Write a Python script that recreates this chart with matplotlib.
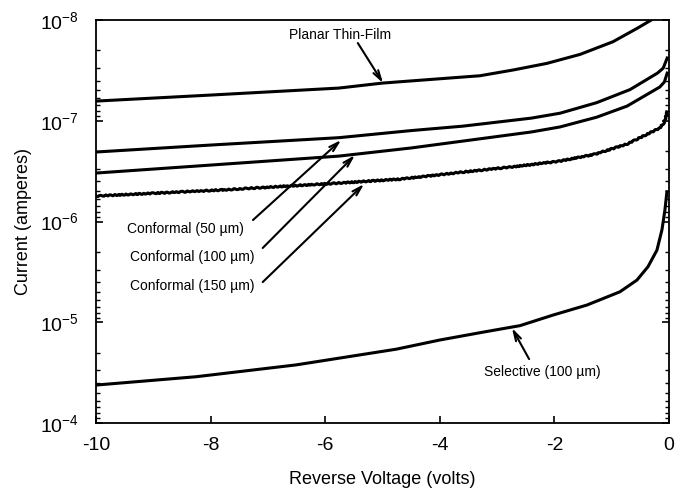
import numpy as np
import matplotlib
matplotlib.use("Agg")
import matplotlib.pyplot as plt
from matplotlib.ticker import LogLocator, NullFormatter

plt.rcParams['font.family'] = ['Liberation Sans', 'DejaVu Sans']
plt.rcParams['mathtext.fontset'] = 'custom'
plt.rcParams['mathtext.rm'] = 'Liberation Sans'

# reverse voltage (V) and current (A)
planar_v = [-10, -8, -5.76, -5.0, -4.2, -3.30, -2.72, -2.13, -1.55, -0.977, -0.558, -0.31]
planar_i = [6.37e-8, 5.55e-8, 4.73e-8, 4.22e-8, 3.90e-8, 3.57e-8, 3.13e-8, 2.69e-8,
            2.19e-8, 1.64e-8, 1.21e-8, 1.0e-8]

conf50_v = [-10, -8, -5.76, -4.5, -3.6, -2.4, -1.9, -1.26, -0.68, -0.2, -0.1, -0.03]
conf50_i = [2.04e-7, 1.74e-7, 1.47e-7, 1.25e-7, 1.13e-7, 9.4e-8, 8.4e-8, 6.6e-8,
            4.9e-8, 3.36e-8, 3.0e-8, 2.38e-8]

conf100_v = [-10, -8, -5.76, -4.5, -3.6, -2.4, -1.9, -1.26, -0.73, -0.16, -0.08, -0.03]
conf100_i = [3.30e-7, 2.75e-7, 2.24e-7, 1.86e-7, 1.59e-7, 1.29e-7, 1.15e-7, 9.2e-8,
             7.14e-8, 4.62e-8, 4.12e-8, 3.36e-8]

conf150_v = [-10, -7.84, -5.76, -4.69, -3.6, -2.7, -1.9, -1.3, -0.73, -0.16, -0.08, -0.03]
conf150_i = [5.58e-7, 4.87e-7, 4.15e-7, 3.79e-7, 3.23e-7, 2.85e-7, 2.51e-7, 2.15e-7,
             1.70e-7, 1.18e-7, 1.03e-7, 8.19e-8]

sel_v = [-10, -8.25, -6.51, -4.76, -4.0, -3.2, -2.60, -2.02, -1.43, -0.855, -0.558,
         -0.366, -0.209, -0.122, -0.070, -0.035]
sel_i = [4.20e-5, 3.47e-5, 2.65e-5, 1.85e-5, 1.50e-5, 1.24e-5, 1.08e-5, 8.47e-6,
         6.74e-6, 4.98e-6, 3.81e-6, 2.81e-6, 1.92e-6, 1.21e-6, 7.69e-7, 5.06e-7]

fig = plt.figure(figsize=(6.75, 4.9), dpi=100)
ax = fig.add_axes([0.1422, 0.1367, 0.8488, 0.8223])

lw = 2.2
ax.plot(planar_v, planar_i, color='black', lw=lw)
ax.plot(conf50_v, conf50_i, color='black', lw=lw)
ax.plot(conf100_v, conf100_i, color='black', lw=lw)
wavy, = ax.plot(conf150_v, conf150_i, color='black', lw=lw)
wavy.set_sketch_params(scale=0.6, length=5, randomness=2)
ax.plot(sel_v, sel_i, color='black', lw=lw)

ax.set_yscale('log')
ax.set_xlim(-10, 0)
ax.set_ylim(1e-4, 1e-8)
ax.set_xticks([-10, -8, -6, -4, -2, 0])
ax.set_xticklabels(['-10', '-8', '-6', '-4', '-2', '0'])
ax.yaxis.set_major_locator(LogLocator(base=10, numticks=10))
ax.yaxis.set_minor_locator(LogLocator(base=10, subs=np.arange(2, 10), numticks=10))
ax.yaxis.set_minor_formatter(NullFormatter())

ax.tick_params(axis='x', direction='in', length=5, width=1.2, labelsize=14, pad=10)
ax.tick_params(axis='y', which='major', direction='in', length=5, width=1.2,
               labelsize=14, pad=12, right=True)
ax.tick_params(axis='y', which='minor', direction='in', length=3, width=1.0, right=True)
for s in ax.spines.values():
    s.set_linewidth(1.3)

ax.set_xlabel('Reverse Voltage (volts)', fontsize=13, labelpad=12)
ax.set_ylabel('Current (amperes)', fontsize=13, labelpad=6)

arrow = dict(arrowstyle='->, head_length=0.7, head_width=0.2', lw=1.5, color='black',
             shrinkA=0, shrinkB=0)
ax.annotate('', xy=(-4.99, 4.22e-8), xytext=(-5.43, 1.69e-8), arrowprops=arrow)
ax.annotate('', xy=(-5.72, 1.55e-7), xytext=(-7.26, 9.66e-7), arrowprops=arrow)
ax.annotate('', xy=(-5.48, 2.19e-7), xytext=(-7.09, 1.83e-6), arrowprops=arrow)
ax.annotate('', xy=(-5.32, 4.24e-7), xytext=(-7.09, 3.99e-6), arrowprops=arrow)
ax.annotate('', xy=(-2.74, 1.14e-5), xytext=(-2.44, 2.32e-5), arrowprops=arrow)

tfs = 10
ax.text(-5.74, 1.41e-8, 'Planar Thin-Film', fontsize=tfs, ha='center', va='center')
ax.text(-9.46, 1.19e-6, 'Conformal (50 µm)', fontsize=tfs, ha='left', va='center')
ax.text(-9.41, 2.25e-6, 'Conformal (100 µm)', fontsize=tfs, ha='left', va='center')
ax.text(-9.41, 4.37e-6, 'Conformal (150 µm)', fontsize=tfs, ha='left', va='center')
ax.text(-3.23, 3.12e-5, 'Selective (100 µm)', fontsize=tfs, ha='left', va='center')

fig.savefig('out.png', dpi=100)
